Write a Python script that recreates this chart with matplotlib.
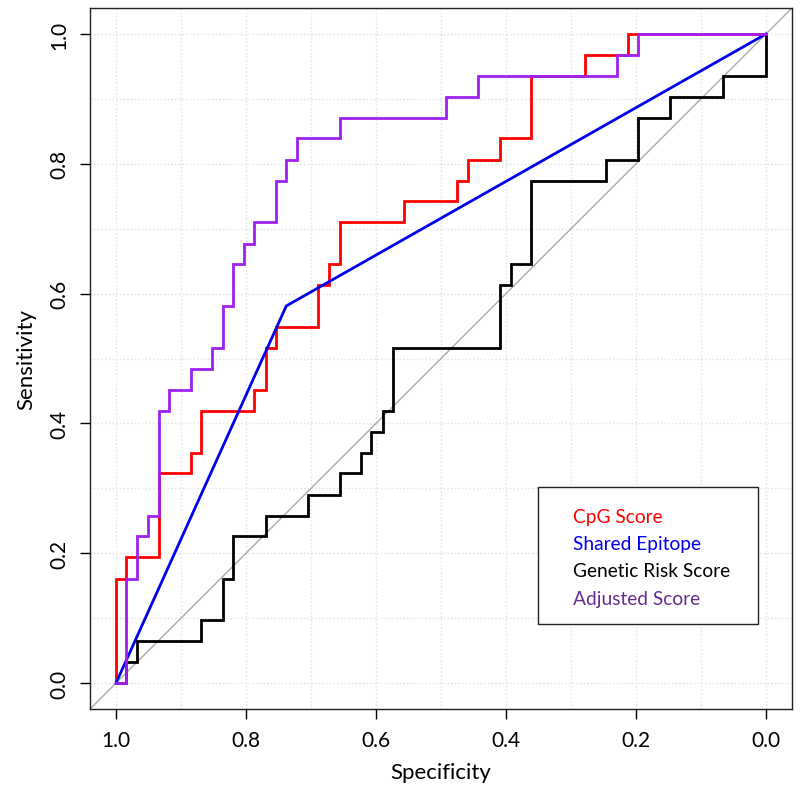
import matplotlib
matplotlib.use("Agg")
import matplotlib.pyplot as plt
from matplotlib.patches import Rectangle

plt.rcParams["font.family"] = ["Lato", "DejaVu Sans"]

# ROC corner points (specificity, sensitivity)
cpg_spec = [1.0, 1.0, 0.984, 0.984, 0.934, 0.934, 0.885, 0.885, 0.869, 0.869,
            0.787, 0.787, 0.770, 0.770, 0.754, 0.754, 0.689, 0.689, 0.672, 0.672,
            0.656, 0.656, 0.557, 0.557, 0.475, 0.475, 0.459, 0.459, 0.410, 0.410,
            0.361, 0.361, 0.279, 0.279, 0.213, 0.213, 0.0]
cpg_sens = [0.0, 0.161, 0.161, 0.194, 0.194, 0.323, 0.323, 0.355, 0.355, 0.419,
            0.419, 0.452, 0.452, 0.516, 0.516, 0.548, 0.548, 0.613, 0.613, 0.645,
            0.645, 0.710, 0.710, 0.742, 0.742, 0.774, 0.774, 0.806, 0.806, 0.839,
            0.839, 0.935, 0.935, 0.968, 0.968, 1.0, 1.0]

se_spec = [1.0, 0.738, 0.0]
se_sens = [0.0, 0.581, 1.0]

grs_spec = [1.0, 0.984, 0.984, 0.967, 0.967, 0.869, 0.869, 0.836, 0.836, 0.820,
            0.820, 0.770, 0.770, 0.705, 0.705, 0.656, 0.656, 0.623, 0.623, 0.607,
            0.607, 0.590, 0.590, 0.574, 0.574, 0.410, 0.410, 0.393, 0.393, 0.361,
            0.361, 0.246, 0.246, 0.197, 0.197, 0.148, 0.148, 0.066, 0.066, 0.0, 0.0]
grs_sens = [0.0, 0.0, 0.032, 0.032, 0.065, 0.065, 0.097, 0.097, 0.161, 0.161,
            0.226, 0.226, 0.258, 0.258, 0.290, 0.290, 0.323, 0.323, 0.355, 0.355,
            0.387, 0.387, 0.419, 0.419, 0.516, 0.516, 0.613, 0.613, 0.645, 0.645,
            0.774, 0.774, 0.806, 0.806, 0.871, 0.871, 0.903, 0.903, 0.935, 0.935, 1.0]

adj_spec = [1.0, 0.984, 0.984, 0.967, 0.967, 0.951, 0.951, 0.934, 0.934, 0.918,
            0.918, 0.885, 0.885, 0.852, 0.852, 0.836, 0.836, 0.820, 0.820, 0.803,
            0.803, 0.787, 0.787, 0.754, 0.754, 0.738, 0.738, 0.721, 0.721, 0.656,
            0.656, 0.492, 0.492, 0.443, 0.443, 0.230, 0.230, 0.197, 0.197, 0.0]
adj_sens = [0.0, 0.0, 0.161, 0.161, 0.226, 0.226, 0.258, 0.258, 0.419, 0.419,
            0.452, 0.452, 0.484, 0.484, 0.516, 0.516, 0.581, 0.581, 0.645, 0.645,
            0.677, 0.677, 0.710, 0.710, 0.774, 0.774, 0.806, 0.806, 0.839, 0.839,
            0.871, 0.871, 0.903, 0.903, 0.935, 0.935, 0.968, 0.968, 1.0, 1.0]

labels = ["CpG Score", "Shared Epitope", "Genetic Risk Score", "Adjusted Score"]
line_colors = ["#FF0000", "#0000EE", "#000000", "#A020F0"]
text_colors = ["#FF0000", "#0000EE", "#000000", "#662D91"]

fig = plt.figure(figsize=(8, 8.03), dpi=100)
ax = fig.add_axes([0.1125, 0.1158, 0.8775, 0.873])

ax.set_xlim(1.04, -0.04)
ax.set_ylim(-0.04, 1.04)

ticks = [0.0, 0.2, 0.4, 0.6, 0.8, 1.0]
minor = [0.1, 0.3, 0.5, 0.7, 0.9]
ax.set_xticks(ticks)
ax.set_yticks(ticks)
ax.set_xticks(minor, minor=True)
ax.set_yticks(minor, minor=True)
ax.set_xticklabels([f"{t:.1f}" for t in ticks])
ax.set_yticklabels([f"{t:.1f}" for t in ticks], rotation=90, va="center")
ax.tick_params(which="minor", length=0)
ax.tick_params(which="major", length=7, width=1, labelsize=15, pad=8)
ax.grid(True, which="both", color="#E0E0E0", linestyle=":", linewidth=1)
ax.set_axisbelow(True)

for s in ax.spines.values():
    s.set_linewidth(1)
    s.set_color("#222222")

ax.axline((1, 0), (0, 1), color="#AAAAAA", linewidth=1)

curves = [(cpg_spec, cpg_sens), (se_spec, se_sens), (grs_spec, grs_sens), (adj_spec, adj_sens)]
for (xs, ys), c in zip(curves, line_colors):
    ax.plot(xs, ys, color=c, linewidth=2.0, solid_joinstyle="miter")

ax.set_xlabel("Specificity", fontsize=16, labelpad=9)
ax.set_ylabel("Sensitivity", fontsize=16, labelpad=9)

# legend box: text only, like the R original
ax.add_patch(Rectangle((0.638, 0.121), 0.313, 0.195, transform=ax.transAxes,
                       facecolor="white", edgecolor="#222222", linewidth=1, zorder=5))
ys_txt = [0.275, 0.236, 0.197, 0.158]
for lab, c, yy in zip(labels, text_colors, ys_txt):
    ax.text(0.688, yy, lab, color=c, fontsize=13.8, transform=ax.transAxes,
            va="center", ha="left", zorder=6)

fig.savefig("out.png", dpi=100)
